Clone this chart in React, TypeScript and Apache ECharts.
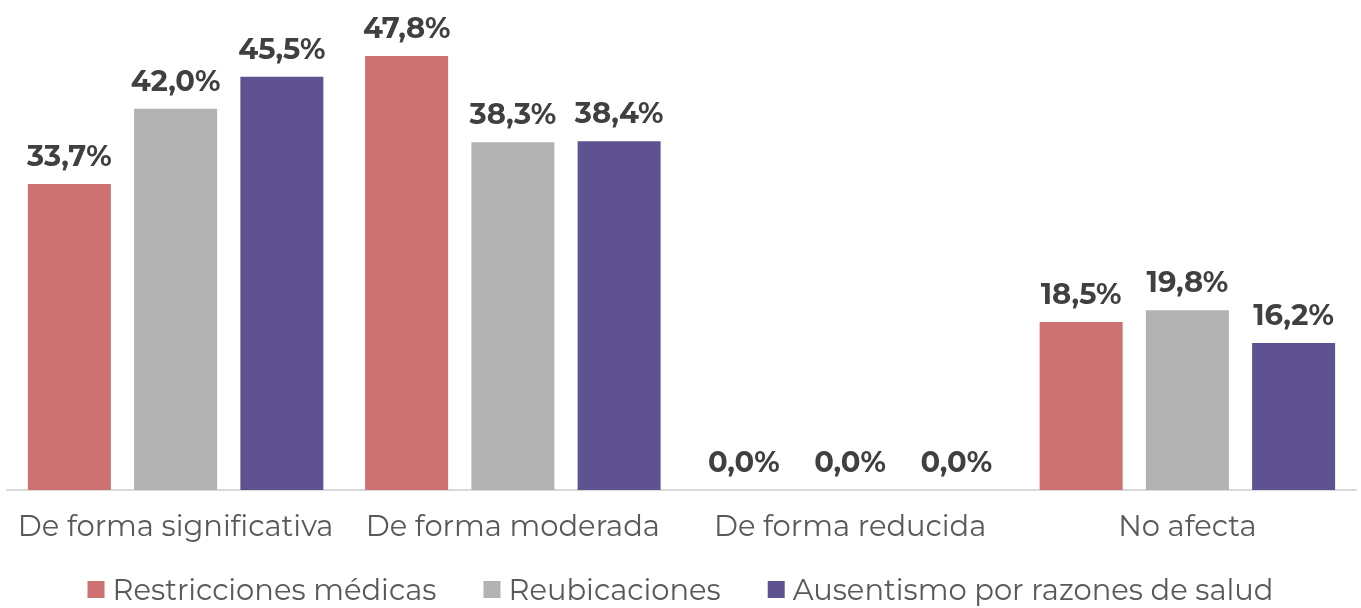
import React, { useEffect, useRef } from "react";
import * as echarts from "echarts";

const categories = ["De forma significativa", "De forma moderada", "De forma reducida", "No afecta"];
const seriesNames = ["Restricciones médicas", "Reubicaciones", "Ausentismo por razones de salud"];
const restricciones = [33.7, 47.8, 0.0, 18.5];
const reubicaciones = [42.0, 38.3, 0.0, 19.8];
const ausentismo = [45.5, 38.4, 0.0, 16.2];
const colors = ["#CD7270", "#B2B2B2", "#5F5290"];

const FONT = "Montserrat, 'DejaVu Sans', sans-serif";

export default function App() {
  const ref = useRef<HTMLDivElement>(null);
  useEffect(() => {
    if (!ref.current) return;
    const chart = echarts.init(ref.current, undefined, { renderer: "svg" });
    const data = [restricciones, reubicaciones, ausentismo];
    chart.setOption({
      animation: false,
      textStyle: { fontFamily: FONT },
      grid: { left: 7, right: 5, top: 36, bottom: 118, containLabel: false },
      legend: {
        top: 575,
        left: "center",
        icon: "rect",
        itemWidth: 17,
        itemHeight: 17,
        itemGap: 47,
        padding: 0,
        textStyle: {
          fontSize: 29,
          lineHeight: 28,
          color: "#595959",
          fontFamily: FONT,
          padding: [0, 0, 0, 3],
        },
        data: seriesNames,
      },
      xAxis: {
        type: "category",
        data: categories,
        axisLine: { lineStyle: { color: "#D9D9D9", width: 2 } },
        axisTick: { show: false },
        axisLabel: { interval: 0, fontSize: 29, color: "#595959", margin: 21, fontFamily: FONT },
      },
      yAxis: {
        type: "value",
        min: 0,
        max: 50,
        show: false,
        splitLine: { show: false },
      },
      series: seriesNames.map((name, i) => ({
        name,
        type: "bar",
        data: data[i],
        barWidth: 83,
        barGap: "28%",
        itemStyle: { color: colors[i] },
        label: {
          show: true,
          position: "top",
          distance: 14,
          fontSize: 29,
          fontWeight: "bold",
          color: "#404040",
          fontFamily: FONT,
          formatter: (p: any) => p.value.toFixed(1).replace(".", ",") + "%",
        },
      })),
    });
    return () => chart.dispose();
  }, []);
  return <div ref={ref} style={{ position: "fixed", left: 0, top: 0, width: 1361, height: 608 }} />;
}
